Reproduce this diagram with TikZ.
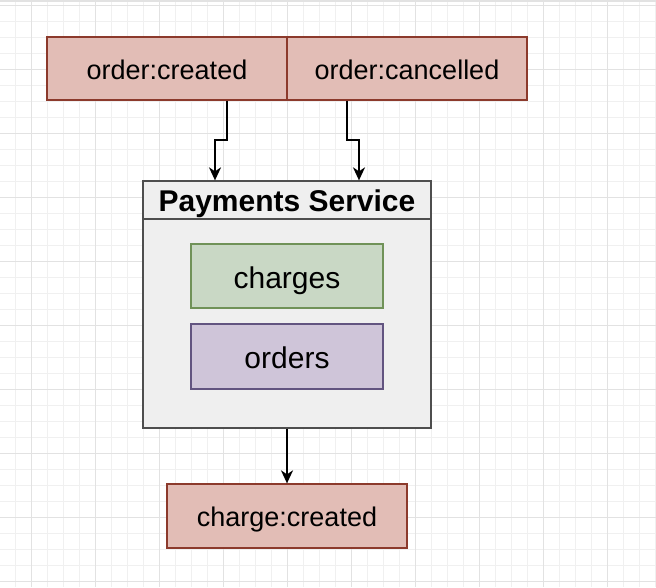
\documentclass[tikz,border=0pt]{standalone}
\usepackage{fontspec}
\setmainfont{Liberation Sans}
\usepackage{tikz}
\usetikzlibrary{positioning,calc,arrows.meta}

\definecolor{evfill}{RGB}{226,189,182}
\definecolor{evline}{RGB}{140,58,44}
\definecolor{chfill}{RGB}{201,216,197}
\definecolor{chline}{RGB}{112,146,88}
\definecolor{orfill}{RGB}{207,197,217}
\definecolor{orline}{RGB}{98,84,128}
\definecolor{svfill}{RGB}{239,239,239}
\definecolor{svline}{RGB}{78,78,78}
\definecolor{gridminor}{RGB}{240,240,240}
\definecolor{gridmajor}{RGB}{226,226,226}

\begin{document}
\begin{tikzpicture}[x=1pt, y=-1pt,
box/.style={rectangle, draw, line width=1.3pt, inner sep=0pt, text height=20pt, text depth=0pt},
event/.style={box, fill=evfill, draw=evline, minimum width=240pt, minimum height=63pt, font=\fontsize{27}{30}\selectfont},
store/.style={box, minimum width=192pt, minimum height=64pt, text height=24pt, font=\fontsize{30}{33}\selectfont},
arr/.style={line width=1.8pt, -{Stealth[length=13pt, width=12pt, inset=4pt]}}]

\fill[white] (0,0) rectangle (656,587);
\useasboundingbox (0,0) rectangle (656,587);

% grid
\foreach \x in {15,31,...,655} \draw[gridminor, line width=0.8pt] (\x,0) -- (\x,587);
\foreach \y in {5,21,...,585} \draw[gridminor, line width=0.8pt] (0,\y) -- (656,\y);
\foreach \x in {31,95,...,607} \draw[gridmajor, line width=1pt] (\x,0) -- (\x,587);
\foreach \y in {5,69,...,581} \draw[gridmajor, line width=1pt] (0,\y) -- (656,\y);
\draw[gridmajor, line width=2pt] (0,1) -- (656,1);

\node[event, text height=21pt] (1) at (167,68.5) {order:created};
\node[event, text height=21pt] (2) at (407,68.5) {order:cancelled};

\node[box, fill=svfill, draw=svline, minimum width=288pt, minimum height=247pt] (3) at (287,304.5) {};
\node[box, fill=svfill, draw=svline, minimum width=288pt, minimum height=38pt, text height=22pt, font=\bfseries\fontsize{30}{33}\selectfont] (4) at (287,200) {Payments Service};

\node[store, fill=chfill, draw=chline] (5) at (287,276) {charges};
\node[store, fill=orfill, draw=orline, minimum height=65pt] (6) at (287,356.5) {orders};

\node[event, minimum height=64pt, text height=21pt] (7) at (287,516) {charge:created};

\coordinate (1bis) at (215,140);
\coordinate (2bis) at (359,140);

\draw[arr] (1.south) ++(60,0) |- (1bis) -- (1bis |- 4.north);
\draw[arr] (2.south) ++(-60,0) |- (2bis) -- (2bis |- 4.north);
\draw[arr] (3.south) -- (7.north);

\end{tikzpicture}
\end{document}
